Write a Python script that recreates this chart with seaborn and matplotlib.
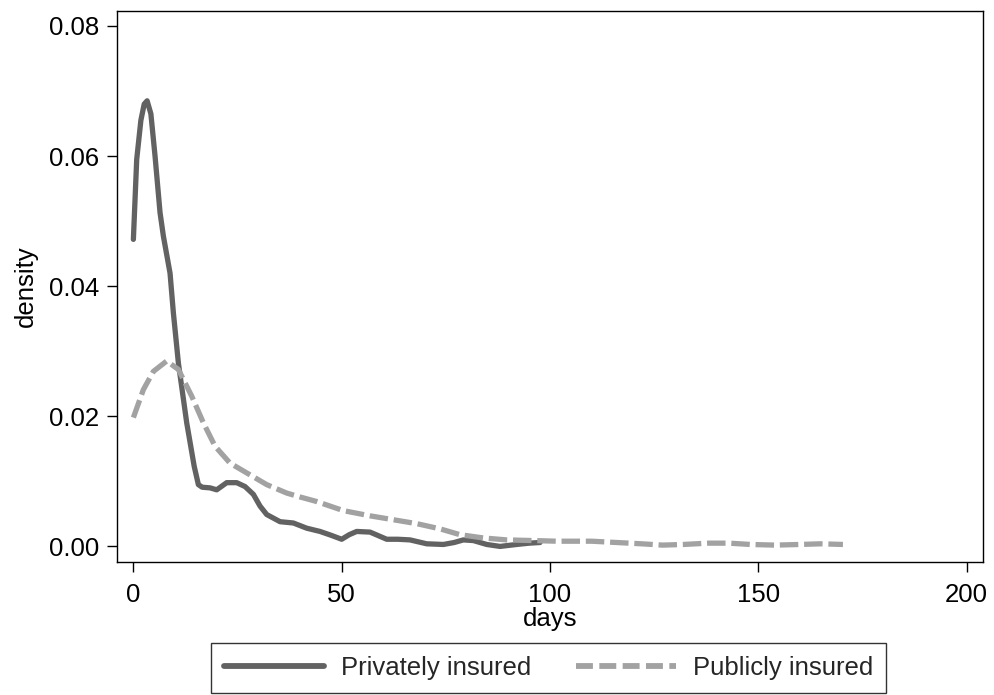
import matplotlib
matplotlib.use("Agg")
import matplotlib.pyplot as plt
import seaborn as sns
import pandas as pd
from matplotlib.lines import Line2D

days_private = [0, 0.8, 1.8, 2.6, 3.3, 4.2, 5.2, 6.4, 7.2, 8.8, 9.6, 10.8, 12.8, 14.6, 15.6,
                16.5, 18.4, 20, 22.4, 24.8, 26.8, 28.8, 30.4, 32, 35.2, 38.4, 41.6, 44.8,
                47.5, 50, 51.8, 53.6, 56.8, 60.8, 63.5, 66.4, 70.4, 74.4, 77, 79.2, 81.6,
                84.8, 88, 92, 95, 97.6]
density_private = [0.0472, 0.0595, 0.0655, 0.0680, 0.0685, 0.0665, 0.0600, 0.0513, 0.0477,
                   0.0420, 0.0359, 0.0282, 0.0190, 0.0123, 0.0095, 0.0091, 0.0090, 0.0087,
                   0.0098, 0.0098, 0.0092, 0.0080, 0.0062, 0.0049, 0.0038, 0.0036, 0.0028,
                   0.0023, 0.0017, 0.0011, 0.0018, 0.0023, 0.0022, 0.0011, 0.0011, 0.0010,
                   0.0004, 0.0003, 0.0006, 0.0010, 0.0009, 0.0003, 0.0000, 0.0003, 0.0005,
                   0.0006]

days_public = [0, 2.4, 4.8, 8, 10.8, 14, 16.8, 19.6, 23.2, 27.2, 32, 36.8, 40, 44, 50.4,
               56.8, 62.4, 68, 73.6, 78.4, 84, 89.6, 96, 101.6, 110, 116, 122, 127, 132,
               138, 143, 148, 154, 160, 165, 170.3]
density_public = [0.0198, 0.0241, 0.0269, 0.0285, 0.0272, 0.0231, 0.0190, 0.0154, 0.0128,
                  0.0113, 0.0095, 0.0082, 0.0076, 0.0069, 0.0055, 0.0047, 0.0041, 0.0035,
                  0.0027, 0.0018, 0.0013, 0.0010, 0.0009, 0.0008, 0.0008, 0.0006, 0.0004,
                  0.0002, 0.0003, 0.0005, 0.0005, 0.0003, 0.0002, 0.0003, 0.0004, 0.0003]

groups = ["Privately insured", "Publicly insured"]
x_ticks = [0, 50, 100, 150, 200]
y_ticks = [0.00, 0.02, 0.04, 0.06, 0.08]

df = pd.concat([
    pd.DataFrame({"days": days_private, "density": density_private, "group": groups[0]}),
    pd.DataFrame({"days": days_public, "density": density_public, "group": groups[1]}),
], ignore_index=True)

sns.set_theme(style="ticks")
plt.rcParams["font.family"] = ["Liberation Sans", "DejaVu Sans"]
plt.rcParams["axes.linewidth"] = 1.0

FS = 18.5
dark, light = "#626262", "#a2a2a2"

fig = plt.figure(figsize=(9.95, 6.95), dpi=100)
ax = fig.add_axes([0.1173, 0.1918, 0.871, 0.7928])

sns.lineplot(data=df, x="days", y="density", hue="group", style="group",
             palette=[dark, light], dashes=["", (3.5, 1.1)],
             linewidth=3.8, sort=False, estimator=None, ax=ax, legend=False)

ax.set_xlim(-4, 204)
ax.set_ylim(-0.00235, 0.08235)
ax.set_xticks(x_ticks)
ax.set_xticklabels([str(v) for v in x_ticks])
ax.set_yticks(y_ticks)
ax.set_yticklabels([f"{v:.2f}" for v in y_ticks])
ax.tick_params(axis="x", labelsize=FS, length=7.5, width=1.0, color="black",
               labelcolor="black", pad=8)
ax.tick_params(axis="y", labelsize=FS, length=7.5, width=1.0, color="black",
               labelcolor="black", pad=5)
ax.set_xlabel("days", fontsize=FS, labelpad=0, color="black")
ax.set_ylabel("density", fontsize=FS, labelpad=8, color="black")
for s in ax.spines.values():
    s.set_visible(True)
    s.set_color("black")
    s.set_linewidth(1.0)

handles = [Line2D([], [], color=dark, lw=4.2),
           Line2D([], [], color=light, lw=4.2, dashes=(2.9, 1.1))]
leg = fig.legend(handles, groups, loc="lower center", bbox_to_anchor=(0.551, 0.003),
                 ncol=2, fontsize=FS, frameon=True, fancybox=False, edgecolor="black",
                 handlelength=3.9, handletextpad=0.65, columnspacing=1.75,
                 borderpad=0.5, borderaxespad=0)
leg.get_frame().set_linewidth(1.0)

fig.savefig("out.png", dpi=100, facecolor="white")
